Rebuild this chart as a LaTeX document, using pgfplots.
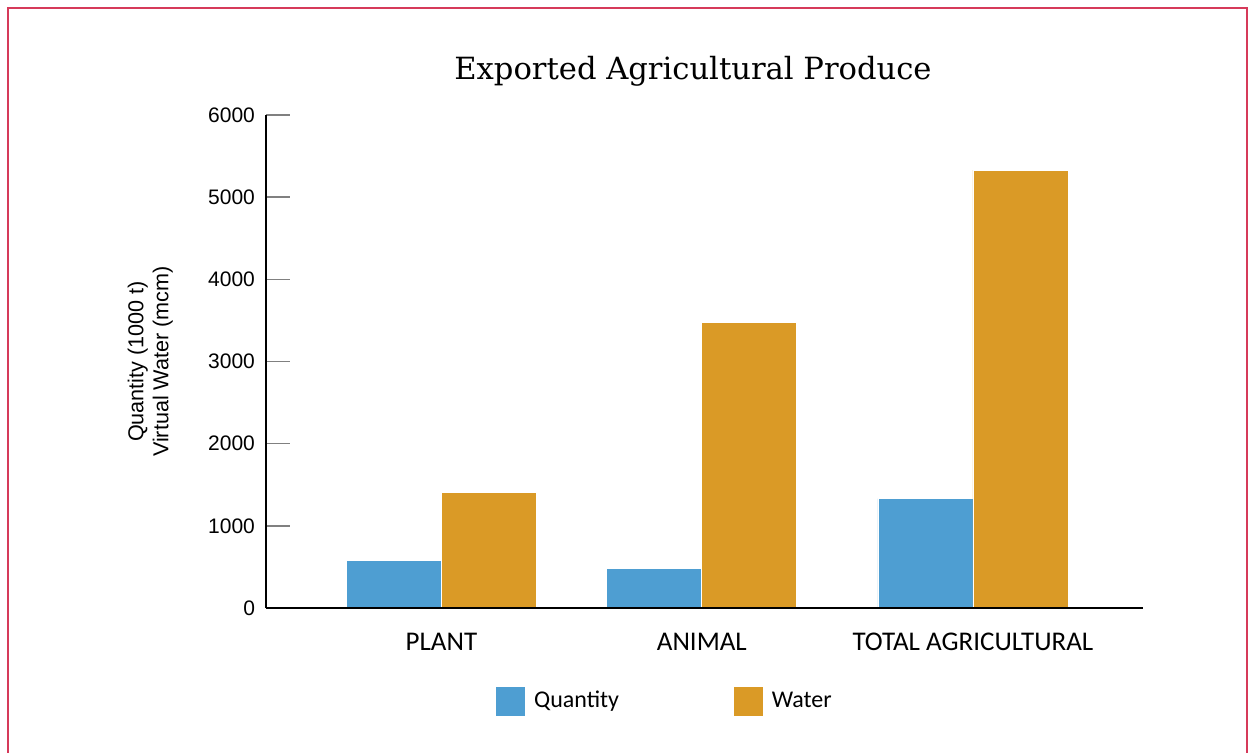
\documentclass[border=0pt]{standalone}
\usepackage{fontspec}
\setmainfont{Liberation Sans}
\newfontfamily\titlefont{DejaVu Serif}
\newfontfamily\catfont{Carlito}
\usepackage{pgfplots}
\pgfplotsset{compat=1.18}

\definecolor{qblue}{RGB}{78,158,210}
\definecolor{worange}{RGB}{218,154,38}
\definecolor{framered}{RGB}{214,58,90}

\begin{document}
\begin{tikzpicture}
\useasboundingbox (0pt,0pt) rectangle (624pt,-376.5pt);
% page frame, open at the bottom
\draw[framered, line width=1pt] (4pt,-390pt) -- (4pt,-4pt) -- (623.5pt,-4pt) -- (623.5pt,-390pt);

\node[font=\titlefont\fontsize{15.3}{18}\selectfont, anchor=base] at (346.5pt,-40pt) {Exported Agricultural Produce};

\begin{axis}[
  at={(133pt,-304pt)}, anchor=south west,
  scale only axis, width=438.5pt, height=246.5pt,
  xmin=-0.66, xmax=2.64, ymin=0, ymax=6000,
  ybar=0pt, bar width=47.5pt,
  axis on top,
  axis x line*=bottom, axis y line*=left,
  axis line style={black, line width=0.75pt},
  xtick={0,0.98,2},
  xticklabels={PLANT,ANIMAL,TOTAL AGRICULTURAL},
  x tick style={draw=none},
  xticklabel style={font=\catfont\fontsize{13.5}{15}\selectfont, yshift=-9pt},
  ytick={0,1000,2000,3000,4000,5000,6000},
  yticklabels={0,1000,2000,3000,4000,5000,6000},
  y tick style={gray, line width=0.75pt},
  tick align=inside, major tick length=12pt,
  yticklabel style={font=\fontsize{10.5}{12}\selectfont, xshift=-2pt},
  ylabel={Quantity (1000 t)\\Virtual Water (mcm)},
  ylabel style={font=\fontsize{10.8}{12.5}\selectfont, align=center,
    at={(axis description cs:-0.132,0.5)}, anchor=center},
  legend style={at={(0.459,-0.189)}, anchor=center, draw=none,
    font=\catfont\fontsize{12}{15}\selectfont, legend columns=2,
    /tikz/every even column/.append style={column sep=53pt},
    nodes={inner xsep=4.5pt}},
]
\addplot[fill=qblue, draw=white, line width=0.4pt,
  legend image code/.code={\fill[qblue] (0pt,-7pt) rectangle (14pt,7pt);}]
  coordinates {(0,580) (0.98,480) (2,1330)};
\addlegendentry{Quantity}
\addplot[fill=worange, draw=white, line width=0.4pt,
  legend image code/.code={\fill[worange] (0pt,-7pt) rectangle (14pt,7pt);}]
  coordinates {(0,1410) (0.98,3470) (2,5330)};
\addlegendentry{Water}
\end{axis}
\end{tikzpicture}
\end{document}
